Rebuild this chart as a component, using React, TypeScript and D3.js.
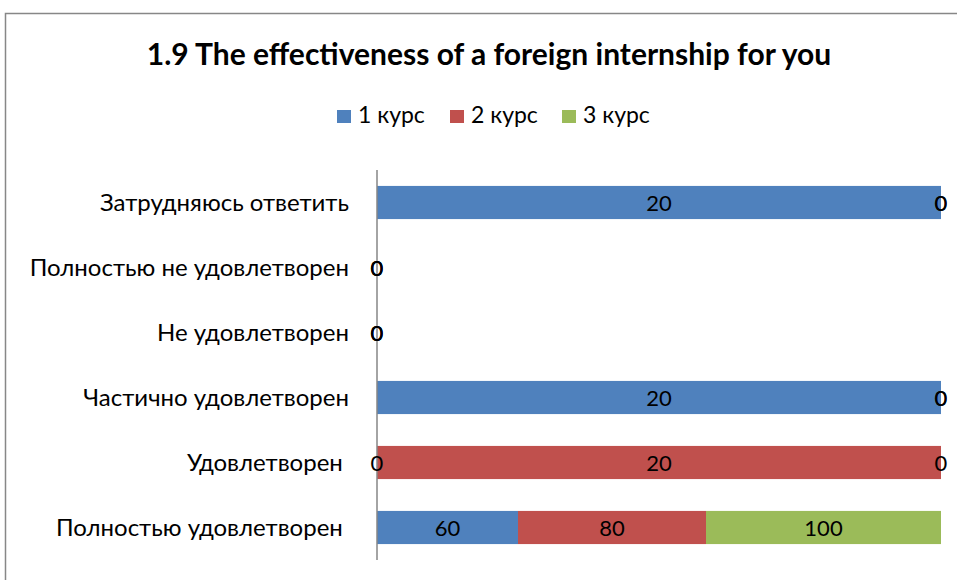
import React, { useEffect, useRef } from 'react'
import * as d3 from 'd3';

const categories = [
    "Затрудняюсь ответить",
    "Полностью не удовлетворен",
    "Не удовлетворен",
    "Частично удовлетворен",
    "Удовлетворен ",
    "Полностью удовлетворен ",
];
const seriesNames = ["1 курс", "2 курс", "3 курс"];
const kurs1 = [20, 0, 0, 20, 0, 60];
const kurs2 = [0, 0, 0, 0, 20, 80];
const kurs3 = [0, 0, 0, 0, 0, 100];
const colors = ["#4F81BD", "#C0504D", "#9BBB59"];

const FONT = "Lato, 'Open Sans', sans-serif";

function Chart() {
    const ref = useRef<SVGSVGElement>(null);

    useEffect(() => {
        const svg = d3.select(ref.current);
        svg.selectAll("*").remove();

        // chart frame, cut off by the picture on the right and bottom
        svg.append("rect")
            .attr("x", 5.5).attr("y", 13.5)
            .attr("width", 1000).attr("height", 1000)
            .attr("fill", "white")
            .attr("stroke", "#878787")
            .attr("stroke-width", 1.5);

        svg.append("text")
            .attr("x", 489).attr("y", 65)
            .attr("text-anchor", "middle")
            .attr("font-family", FONT)
            .attr("font-weight", "bold")
            .attr("font-size", 30)
            .text("1.9 The effectiveness of a foreign internship for you");

        // legend
        const legendX = [337, 450, 562];
        seriesNames.forEach((name, i) => {
            svg.append("rect")
                .attr("x", legendX[i]).attr("y", 110)
                .attr("width", 14).attr("height", 13)
                .attr("fill", colors[i]);
            svg.append("text")
                .attr("x", legendX[i] + 21).attr("y", 123)
                .attr("font-family", FONT)
                .attr("font-size", 23)
                .text(name);
        });

        const rows = categories.map((c, i) => ({ cat: c, vals: [kurs1[i], kurs2[i], kurs3[i]] }));

        const x = d3.scaleLinear().domain([0, 1]).range([377, 941]);
        const y = d3.scaleBand().domain(categories).range([170, 560]).paddingInner(0.49).paddingOuter(0.245);

        rows.forEach(r => {
            const total = d3.sum(r.vals);
            let acc = 0;
            r.vals.forEach((v, i) => {
                const p0 = total ? acc / total : 0;
                const p1 = total ? (acc + v) / total : 0;
                acc += v;
                if (p1 > p0) {
                    svg.append("rect")
                        .attr("x", x(p0)).attr("y", y(r.cat))
                        .attr("width", x(p1) - x(p0))
                        .attr("height", y.bandwidth())
                        .attr("fill", colors[i]);
                }
            });
        });

        // category axis
        svg.append("line")
            .attr("x1", 377).attr("x2", 377)
            .attr("y1", 170).attr("y2", 560)
            .attr("stroke", "#868686").attr("stroke-width", 1.5);

        svg.selectAll(".cat")
            .data(categories)
            .enter()
            .append("text")
            .attr("x", 349)
            .attr("y", d => y(d) + y.bandwidth() / 2)
            .attr("dy", "0.35em")
            .attr("text-anchor", "end")
            .attr("font-family", FONT)
            .attr("font-size", 24)
            .style("white-space", "pre")
            .text(d => d);

        // data labels
        rows.forEach(r => {
            const total = d3.sum(r.vals);
            let acc = 0;
            r.vals.forEach(v => {
                const p0 = total ? acc / total : 0;
                const p1 = total ? (acc + v) / total : 0;
                acc += v;
                svg.append("text")
                    .attr("x", x((p0 + p1) / 2))
                    .attr("y", y(r.cat) + y.bandwidth() / 2)
                    .attr("dy", "0.38em")
                    .attr("text-anchor", "middle")
                    .attr("font-family", FONT)
                    .attr("font-size", 22)
                    .attr("fill", "black")
                    .text(v);
            });
        });
    }, []);

    return <svg ref={ref} width={957} height={580} style={{ display: "block" }}></svg>;
}

export default function App() {
    return (
        <div style={{ position: "absolute", left: 0, top: 0, width: 957, height: 580, overflow: "hidden", background: "white" }}>
            <Chart />
        </div>
    );
}
